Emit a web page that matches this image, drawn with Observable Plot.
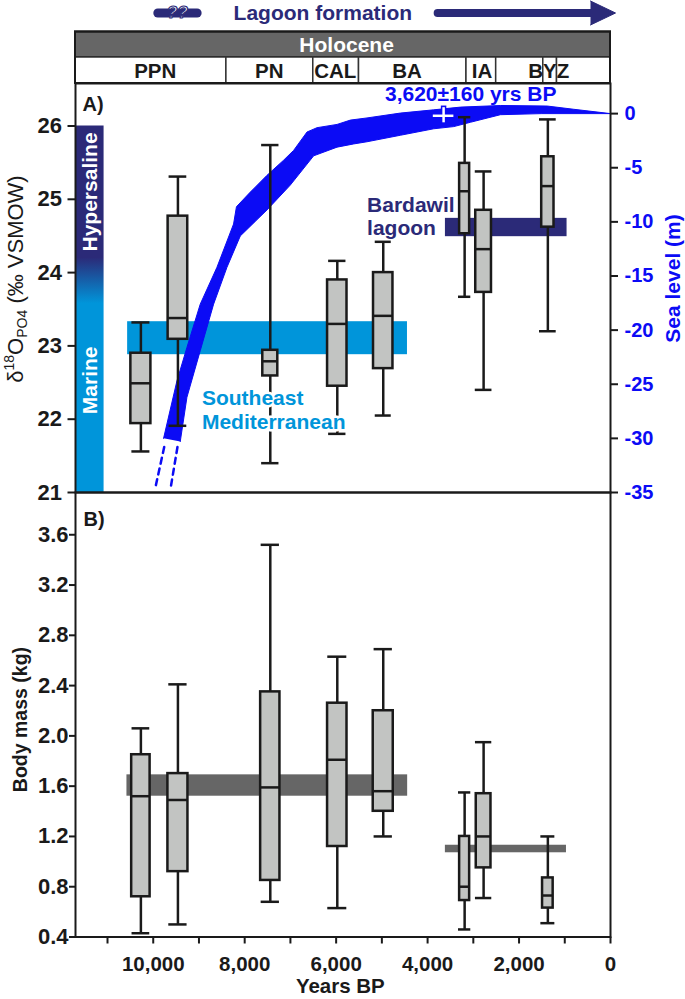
<!DOCTYPE html>
<html>
<head>
<meta charset="utf-8">
<script src="https://cdn.jsdelivr.net/npm/d3@7"></script>
<script src="https://cdn.jsdelivr.net/npm/@observablehq/plot@0.6"></script>
<style>
  html, body { margin: 0; padding: 0; background: #fff; }
  #wrap { position: relative; width: 685px; height: 999px; overflow: hidden; background: #fff; }
  #wrap svg { position: absolute; left: 0; overflow: visible; background: transparent; }
</style>
</head>
<body>
<div id="wrap"></div>
<script>
// ---------------- DATA ----------------
// sample groups (age in years BP)
const groupAges = [10270, 9460, 7440, 5975, 4970, 3190, 2775, 1370];

// panel A: delta18O PO4 (per mil VSMOW) box statistics
const d18O_min    = [21.56, 21.91, 21.40, 21.80, 22.05, 23.67, 22.40, 23.20];
const d18O_q1     = [21.94, 23.09, 22.59, 22.45, 22.69, 24.53, 23.73, 24.62];
const d18O_median = [22.49, 23.38, 22.79, 23.30, 23.41, 25.11, 24.32, 25.18];
const d18O_q3     = [22.90, 24.77, 22.94, 23.90, 24.00, 25.49, 24.85, 25.58];
const d18O_max    = [23.32, 25.31, 25.74, 24.16, 24.42, 26.12, 25.38, 26.09];

// panel B: body mass (kg) box statistics
const mass_min    = [0.43, 0.50, 0.68, 0.63, 1.20, 0.46, 0.71, 0.51];
const mass_q1     = [0.72, 0.92, 0.85, 1.12, 1.40, 0.69, 0.95, 0.63];
const mass_median = [1.52, 1.49, 1.59, 1.81, 1.56, 0.80, 1.20, 0.73];
const mass_q3     = [1.85, 1.70, 2.35, 2.26, 2.20, 1.20, 1.54, 0.87];
const mass_max    = [2.06, 2.41, 3.52, 2.63, 2.69, 1.55, 1.95, 1.20];

// reference water bands (panel A)
const envNames = ["Southeast\nMediterranean", "Bardawil\nlagoon"];
const envStart = [10560, 3610];
const envEnd   = [4440, 950];
const envLow   = [22.88, 24.49];
const envHigh  = [23.33, 24.74];

// reference body-mass bands (panel B)
const massRefStart = [10575, 3611];
const massRefEnd   = [4436, 963];
const massRefLow   = [1.52, 1.07];
const massRefHigh  = [1.69, 1.13];

// sea level envelope (m), upper and lower edges
const seaUpperAge   = [9774, 9482, 9263, 8972, 8607, 8243, 8180, 7877, 7512, 7148, 6930, 6637, 6418, 5981, 5689, 5325, 4595, 3866, 3282, 2400, 1385, 803, 0];
const seaUpperLevel = [-30.0, -24.7, -21.6, -17.6, -14.2, -10.2, -8.6, -7.25, -5.7, -4.3, -3.4, -1.7, -1.3, -1.0, -0.6, -0.4, 0.05, 0.35, 0.6, 0.75, 0.7, 0.4, 0];
const seaLowerAge   = [9409, 9263, 8972, 8680, 8388, 8096, 7512, 7002, 6492, 5981, 5616, 5325, 4595, 3866, 3429, 3063, 2407, 1500, 0];
const seaLowerLevel = [-30.3, -26.2, -21.9, -17.6, -14.2, -11.3, -8.9, -6.6, -3.9, -3.1, -2.8, -2.6, -2.0, -1.4, -1.2, -0.8, -0.1, 0.0, 0];
// extrapolated (dashed) continuation
const dashId    = ["a", "a", "b", "b"];
const dashAge   = [9760, 9956, 9470, 9628];
const dashLevel = [-30.8, -34.6, -30.8, -34.8];
// dated sea-level point 3,620±160 yrs BP
const datedAge = 3650, datedAgeErr = 250, datedLevel = -0.2, datedLevelErr = [0.7, -1.0];

// timeline
const periodBounds = [11700, 8400, 6500, 5500, 3150, 2500, 1470, 1170, 0];
const periodLabels = ["PPN", "PN", "CAL", "BA", "IA", "BYZ"];
const periodLabelAge = [9956, 7462, 6018, 4449, 2808, 1350];
const lagoonArrowAge = [3780, 438];
const lagoonHeadAge = [438, -110, 438];
const uncertainAge = [9900, 9040];

// axis ticks
const d18OTicks = [21, 22, 23, 24, 25, 26];
const seaTicks = [0, -5, -10, -15, -20, -25, -30, -35];
const massTicks = [0.4, 0.8, 1.2, 1.6, 2.0, 2.4, 2.8, 3.2, 3.6];
const yearTicks = d3.range(0, 11001, 1000);

// ---------------- STYLE ----------------
const FONT = "'Liberation Sans', Arial, Helvetica, sans-serif";
const NAVY = "#2b2a78", SKY = "#0095da", SEA = "#0b0bf5", INK = "#1a1a1a";
const BOXFILL = "#c2c4c2", BANDGRAY = "#666666";
const X_DOMAIN = [11700, 0];
const SL_TO_D = 5.169 / 35;
const toDelta = sl => 21 + (sl + 35) * SL_TO_D;
const fromDelta = d => Math.round((d - 21) / SL_TO_D - 35);

const wrap = document.getElementById("wrap");
function place(svg, top) { svg.style.top = top + "px"; wrap.appendChild(svg); }
const baseStyle = {overflow: "visible", background: "transparent", fontFamily: FONT, color: INK};

// ---------------- HEADER ----------------
const cells = periodBounds.slice(0, -1).map((s, i) => ({s, e: periodBounds[i + 1]}));
const header = Plot.plot({
  width: 685, height: 83, marginLeft: 75, marginRight: 75, marginTop: 0, marginBottom: 0,
  style: baseStyle,
  x: {domain: X_DOMAIN, axis: null},
  y: {domain: [83, 0], axis: null},
  marks: [
    Plot.line(uncertainAge.map(a => ({a})), {x: "a", y: 12.5, stroke: NAVY, strokeWidth: 9, strokeLinecap: "round"}),
    Plot.text(["??"], {x: 9470, y: 12, text: d => d, fill: "white", stroke: NAVY, strokeWidth: 1.2, fontSize: 17, fontWeight: "bold", paintOrder: "fill", fontStyle: "italic"}),
    Plot.text(["Lagoon formation"], {x: 6291, y: 12.5, text: d => d, fill: NAVY, fontSize: 21, fontWeight: "bold"}),
    Plot.line(lagoonArrowAge.map(a => ({a})), {x: "a", y: 12.5, stroke: NAVY, strokeWidth: 8, strokeLinecap: "round"}),
    Plot.line(lagoonHeadAge.map((a, i) => ({a, y: [0.5, 12.5, 24.5][i]})), {x: "a", y: "y", fill: NAVY, stroke: NAVY, strokeWidth: 1}),
    Plot.rect([0], {x1: X_DOMAIN[0], x2: X_DOMAIN[1], y1: 31.5, y2: 57, fill: "#666666", stroke: INK, strokeWidth: 2}),
    Plot.text(["Holocene"], {x: 5771, y: 44.3, text: d => d, fill: "white", fontSize: 21, fontWeight: "bold"}),
    Plot.rect(cells, {x1: "s", x2: "e", y1: 57, y2: 83, fill: "white", stroke: "#333", strokeWidth: 1.5}),
    Plot.rect([0], {x1: X_DOMAIN[0], x2: X_DOMAIN[1], y1: 31.5, y2: 83, fill: "none", stroke: INK, strokeWidth: 2}),
    Plot.text(periodLabels, {x: (d, i) => periodLabelAge[i], y: 70.5, text: d => d, fill: INK, fontSize: 20.5, fontWeight: "bold"})
  ]
});
place(header, 0);

// ---------------- PANEL A ----------------
const boxesA = groupAges.map((age, i) => ({age, lo: d18O_min[i], q1: d18O_q1[i], med: d18O_median[i], q3: d18O_q3[i], hi: d18O_max[i],
  w: [438, 429, 328, 425, 425, 219, 344, 269][i], cap: [394, 387, 379, 379, 350, 269, 365, 365][i]}));
const boxesB = groupAges.map((age, i) => ({age, lo: mass_min[i], q1: mass_q1[i], med: mass_median[i], q3: mass_q3[i], hi: mass_max[i],
  w: [403, 438, 422, 425, 438, 219, 322, 232][i], cap: [387, 400, 400, 416, 400, 269, 357, 306][i]}));

function boxMarks(rows) {
  const s = {stroke: INK, strokeWidth: 2.5};
  return [
    Plot.ruleX(rows, {x: "age", y1: "lo", y2: "hi", ...s}),
    Plot.ruleY(rows, {y: "lo", x1: d => d.age + d.cap / 2, x2: d => d.age - d.cap / 2, ...s}),
    Plot.ruleY(rows, {y: "hi", x1: d => d.age + d.cap / 2, x2: d => d.age - d.cap / 2, ...s}),
    Plot.rect(rows, {x1: d => d.age + d.w / 2, x2: d => d.age - d.w / 2, y1: "q1", y2: "q3", fill: BOXFILL, ...s}),
    Plot.ruleY(rows, {y: "med", x1: d => d.age + d.w / 2, x2: d => d.age - d.w / 2, ...s})
  ];
}

const seaPoly = [
  ...seaUpperAge.map((age, i) => ({age, sl: seaUpperLevel[i]})),
  ...seaLowerAge.map((age, i) => ({age, sl: seaLowerLevel[i]})).reverse()
];
const dashes = dashAge.map((age, i) => ({id: dashId[i], age, sl: dashLevel[i]}));
const envRows = envNames.map((name, i) => ({name, s: envStart[i], e: envEnd[i], lo: envLow[i], hi: envHigh[i]}));

const panelA = Plot.plot({
  width: 685, height: 409, marginLeft: 75, marginRight: 75, marginTop: 0, marginBottom: 0,
  style: baseStyle,
  x: {domain: X_DOMAIN, axis: null},
  y: {domain: [21, 21 + 409 / 73.3]},
  marks: [
    Plot.rect([0], {x1: X_DOMAIN[0], x2: 11075, y1: 21, y2: 26, fill: "url(#marineGrad)"}),
    Plot.text(["Hypersaline", "Marine"], {x: 11379, y: [25.10, 22.53], text: d => d, rotate: -90, fill: "white", fontSize: 21, fontWeight: "bold"}),
    Plot.rect(envRows, {x1: "s", x2: "e", y1: "lo", y2: "hi", fill: (d, i) => [SKY, NAVY][i]}),
    Plot.line(seaPoly, {x: "age", y: d => toDelta(d.sl), fill: SEA, stroke: SEA, strokeWidth: 1, curve: "linear"}),
    Plot.line(dashes, {x: "age", y: d => toDelta(d.sl), z: "id", stroke: SEA, strokeWidth: 2.5, strokeDasharray: "6,5"}),
    Plot.ruleY([datedLevel], {y: d => toDelta(d), x1: datedAge + datedAgeErr, x2: datedAge - datedAgeErr, stroke: SEA, strokeWidth: 5.5}),
    Plot.ruleX([datedAge], {x: d => d, y1: toDelta(datedLevelErr[0]), y2: toDelta(datedLevelErr[1]), stroke: SEA, strokeWidth: 5.5}),
    Plot.ruleY([datedLevel], {y: d => toDelta(d), x1: datedAge + datedAgeErr - 25, x2: datedAge - datedAgeErr + 25, stroke: "white", strokeWidth: 2.5}),
    Plot.ruleX([datedAge], {x: d => d, y1: toDelta(datedLevelErr[0] - 0.15), y2: toDelta(datedLevelErr[1] + 0.15), stroke: "white", strokeWidth: 2.5}),
    ...boxMarks(boxesA),
    Plot.text([envNames[0]], {x: 8935, y: 22.43, text: d => d, textAnchor: "start", lineAnchor: "top", lineHeight: 1.15, fill: SKY, stroke: "white", strokeWidth: 5, paintOrder: "stroke", fontSize: 21, fontWeight: "bold"}),
    Plot.text([envNames[1]], {x: 5324, y: 25.055, text: d => d, textAnchor: "start", lineAnchor: "top", lineHeight: 1.1, fill: NAVY, fontSize: 21, fontWeight: "bold"}),
    Plot.text(["3,620±160 yrs BP"], {x: 3057, y: 26.54, text: d => d, lineAnchor: "top", fill: SEA, fontSize: 21, fontWeight: "bold"}),
    Plot.frame({stroke: INK, strokeWidth: 2}),
    Plot.axisY(d18OTicks, {anchor: "left", tickSize: 7.5, tickPadding: 6, strokeWidth: 2, stroke: INK, fill: INK, fontSize: 22, fontWeight: "bold", tickFormat: d => String(d), label: null}),
    Plot.axisY(seaTicks.map(toDelta), {anchor: "right", tickSize: 7, tickPadding: 7, strokeWidth: 2, stroke: INK, fill: SEA, fontSize: 20, fontWeight: "bold", tickFormat: d => String(fromDelta(d)), label: null}),
    Plot.text(["Sea level (m)"], {frameAnchor: "right", y: 23.92, dx: 62.3, text: d => d, rotate: -90, textAnchor: "middle", lineAnchor: "middle", fill: SEA, fontSize: 21, fontWeight: "bold"}),
    Plot.text(["A)"], {frameAnchor: "top-left", dx: 7, dy: 12.8, text: d => d, textAnchor: "start", lineAnchor: "top", fill: INK, fontSize: 20, fontWeight: "bold"})
  ]
});
// gradient definition and the subscripted/superscripted axis title
{
  const svg = d3.select(panelA);
  const defs = svg.insert("defs", ":first-child");
  const g = defs.append("linearGradient").attr("id", "marineGrad").attr("x1", 0).attr("y1", 0).attr("x2", 0).attr("y2", 1);
  [[0, NAVY], [0.36, NAVY], [0.485, SKY], [1, SKY]].forEach(([o, c]) => g.append("stop").attr("offset", o).attr("stop-color", c));
  const t = svg.append("text")
    .attr("transform", "translate(23,196) rotate(-90)")
    .attr("text-anchor", "middle")
    .attr("font-family", FONT).attr("font-size", 22).attr("fill", INK);
  t.append("tspan").text("δ");
  t.append("tspan").attr("font-size", 14).attr("dy", -9).text("18");
  t.append("tspan").attr("dy", 9).text("O");
  t.append("tspan").attr("font-size", 14).attr("dy", 4).text("PO4");
  t.append("tspan").attr("dy", -4).text(" (‰ VSMOW)");
}
place(panelA, 83);

// ---------------- PANEL B ----------------
const massRows = massRefStart.map((s, i) => ({s, e: massRefEnd[i], lo: massRefLow[i], hi: massRefHigh[i]}));
const panelB = Plot.plot({
  width: 685, height: 507, marginLeft: 75, marginRight: 75, marginTop: 0, marginBottom: 62.5,
  style: baseStyle,
  x: {domain: X_DOMAIN},
  y: {domain: [0.4, 0.4 + 444.5 / 125.7]},
  marks: [
    Plot.rect(massRows, {x1: "s", x2: "e", y1: "lo", y2: "hi", fill: BANDGRAY}),
    ...boxMarks(boxesB),
    Plot.frame({stroke: INK, strokeWidth: 2}),
    Plot.axisY(massTicks, {anchor: "left", tickSize: 6, tickPadding: 1, strokeWidth: 2, stroke: INK, fill: INK, fontSize: 22, fontWeight: "bold", tickFormat: d3.format(".1f"), label: null}),
    Plot.axisX(yearTicks, {anchor: "bottom", tickSize: 7, tickPadding: 12, strokeWidth: 2, stroke: INK, fill: INK, fontSize: 20.5, fontWeight: "bold", tickFormat: d => d % 2000 ? "" : d3.format(",")(d), label: null}),
    Plot.text(["Body mass (kg)"], {frameAnchor: "left", y: 2.13, dx: -54.4, text: d => d, rotate: -90, textAnchor: "middle", lineAnchor: "middle", fill: INK, fontSize: 19.5, fontWeight: "bold"}),
    Plot.text(["Years BP"], {frameAnchor: "bottom", x: 5908, dy: 49, text: d => d, textAnchor: "middle", lineAnchor: "middle", fill: INK, fontSize: 20.5, fontWeight: "bold"}),
    Plot.text(["B)"], {frameAnchor: "top-left", dx: 8, dy: 18.8, text: d => d, textAnchor: "start", lineAnchor: "top", fill: INK, fontSize: 20, fontWeight: "bold"})
  ]
});
place(panelB, 492);
</script>
</body>
</html>
